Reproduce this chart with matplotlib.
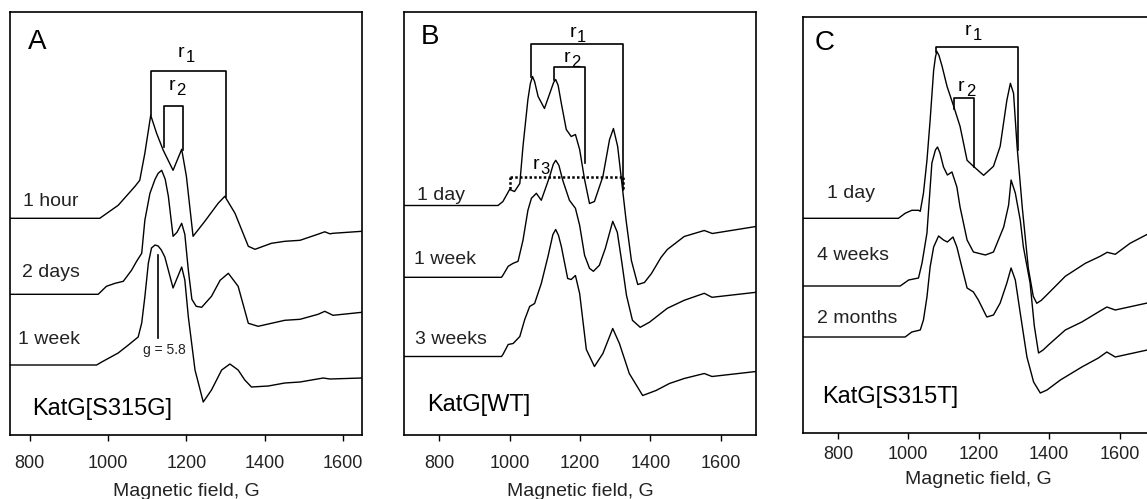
import numpy as np
import matplotlib.pyplot as plt

plt.rcParams['font.family'] = ['Liberation Sans', 'DejaVu Sans']

# --- panel A: KatG[S315G] (field in G, intensity in a.u.)
field_a1 = [750, 974, 979, 1026, 1069, 1081, 1094, 1109, 1124, 1141, 1166, 1188, 1200, 1217,
            1247, 1281, 1298, 1324, 1358, 1375, 1417, 1451, 1490, 1535, 1553, 1566, 1574, 1648]
int_a1 = [0, 0, 0, 13, 32, 38, 65, 103, 85, 68, 48, 69, 42, -18,
          -3, 15, 22, 5, -28, -31, -25, -23, -22, -16, -13.5, -15.5, -15, -13]

field_a2 = [750, 975, 996, 1018, 1039, 1060, 1073, 1086, 1094, 1107, 1120, 1128, 1137, 1146,
            1154, 1166, 1176, 1188, 1196, 1205, 1214, 1225, 1239, 1264, 1286, 1307, 1332,
            1358, 1383, 1451, 1490, 1536, 1553, 1574, 1648]
int_a2 = [0, 0, 8, 11, 13, 24, 33, 41, 74, 101, 115, 121, 124, 115,
          98, 58, 62, 71, 60, 24, -5, -12, -13, -2, 14, 21, 8,
          -29, -32, -26, -25, -20, -17, -21, -18]

field_a3 = [750, 971, 984, 1026, 1052, 1077, 1086, 1094, 1103, 1111, 1120, 1128, 1136, 1145,
            1166, 1188, 1196, 1205, 1222, 1243, 1264, 1290, 1311, 1332, 1349, 1366, 1409,
            1451, 1490, 1549, 1566, 1648]
int_a3 = [0, 0, 3, 12, 20, 28, 42, 68, 102, 117, 120, 119, 115, 108,
          77, 98, 85, 48, -5, -37, -25, -5, 1, -5, -15, -22, -21,
          -18, -17, -13, -14, -13]

# --- panel B: KatG[WT]
field_b1 = [700, 967, 981, 1000, 1014, 1029, 1038, 1052, 1059, 1065, 1071, 1081, 1099, 1118,
            1125, 1131, 1138, 1147, 1161, 1175, 1187, 1199, 1213, 1227, 1241, 1265, 1284,
            1295, 1307, 1320, 1331, 1346, 1364, 1383, 1403, 1430, 1448, 1496, 1553, 1576, 1700]
int_b1 = [0, 0, 4, 16, 14, 22, 59, 106, 122, 129, 124, 109, 97, 116,
          123, 126, 120, 102, 76, 69, 71, 56, 26, 2, 4, 29, 66,
          77, 59, 19, -15, -55, -79, -77, -68, -52, -44, -31, -25, -28, -21]

field_b2 = [700, 977, 981, 996, 1010, 1024, 1038, 1052, 1062, 1076, 1090, 1114, 1124, 1131,
            1140, 1151, 1170, 1187, 1199, 1213, 1227, 1238, 1255, 1272, 1293, 1306, 1318,
            1332, 1349, 1371, 1397, 1448, 1496, 1553, 1575, 1700]
int_b2 = [0, 0, 2, 11, 14, 16, 37, 67, 79, 84, 77, 101, 113, 117,
          112, 97, 77, 69, 52, 22, 9, 6, 12, 29, 56, 45, 17,
          -18, -43, -50, -45, -31, -23, -16, -20, -15]

field_b3 = [700, 977, 981, 996, 1010, 1029, 1043, 1057, 1071, 1090, 1109, 1123, 1131, 1139,
            1147, 1165, 1175, 1187, 1199, 1218, 1241, 1265, 1293, 1312, 1340, 1378, 1416,
            1454, 1496, 1553, 1575, 1700]
int_b3 = [0, 0, 2, 12, 13, 20, 37, 50, 53, 73, 100, 122, 127, 121,
          110, 78, 77, 81, 63, 7, -10, 3, 28, 13, -17, -39, -34,
          -27, -22, -17, -20, -15]

# --- panel C: KatG[S315T]
field_c1 = [700, 972, 991, 1010, 1029, 1034, 1043, 1053, 1062, 1072, 1077, 1081, 1087, 1096,
            1110, 1128, 1147, 1167, 1185, 1214, 1242, 1261, 1280, 1290, 1299, 1309, 1324,
            1341, 1355, 1365, 1378, 1398, 1446, 1503, 1545, 1565, 1588, 1630, 1679, 1700]
int_c1 = [0, 0, 5, 8, 8, 7, 25, 58, 98, 148, 161, 167, 163, 152,
          132, 113, 92, 58, 52, 43, 52, 72, 118, 135, 125, 72, 10,
          -50, -78, -85, -82, -75, -58, -45, -38, -34, -36, -25, -16, -13]

field_c2 = [700, 977, 1001, 1029, 1039, 1053, 1067, 1077, 1083, 1090, 1100, 1111, 1124, 1138,
            1147, 1167, 1185, 1219, 1242, 1271, 1285, 1292, 1304, 1318, 1327, 1346, 1358,
            1370, 1383, 1398, 1446, 1493, 1540, 1564, 1588, 1679, 1700]
int_c2 = [0, 0, 6, 8, 23, 53, 123, 136, 139, 133, 119, 111, 114, 99,
          79, 46, 34, 31, 34, 59, 81, 106, 93, 66, 39, 3, -40,
          -67, -64, -59, -44, -36, -26, -21, -24, -17, -16]

field_c3 = [700, 991, 1010, 1034, 1043, 1053, 1062, 1072, 1086, 1100, 1111, 1127, 1138, 1152,
            1167, 1185, 1199, 1223, 1242, 1261, 1280, 1292, 1304, 1318, 1337, 1356, 1375,
            1394, 1432, 1493, 1540, 1564, 1588, 1679, 1700]
int_c3 = [0, 0, 5, 7, 17, 40, 70, 90, 101, 97, 95, 100, 90, 70,
          49, 45, 37, 20, 22, 34, 54, 69, 57, 24, -20, -45, -56,
          -53, -43, -30, -21, -15, -20, -13, -12]

labels_a = ['1 hour', '2 days', '1 week']
labels_b = ['1 day', '1 week', '3 weeks']
labels_c = ['1 day', '4 weeks', '2 months']

offsets_a = [216.7, 140.7, 70]
offsets_b = [229.5, 157.7, 78.5]
offsets_c = [214.4, 146.7, 95.7]

ticks = [800, 1000, 1200, 1400, 1600]

fig = plt.figure(figsize=(11.47, 4.99), dpi=100)
W, H = 1147, 499


def make_ax(x0, ytop, ybot, xlim, ymax, pad, labelpad):
    ax = fig.add_axes([x0 / W, 1 - ybot / H, 352 / W, (ybot - ytop) / H])
    ax.set_xlim(*xlim)
    ax.set_ylim(0, ymax)
    ax.set_yticks([])
    ax.set_xticks(ticks)
    ax.tick_params(axis='x', direction='out', length=4.5, width=1, pad=pad,
                   labelsize=13, labelcolor='#222')
    for s in ax.spines.values():
        s.set_linewidth(1.2)
    ax.set_xlabel('Magnetic field, G', fontsize=14, color='#222', labelpad=labelpad)
    return ax


def bracket(ax, x0, x1, top, y0, y1, **kw):
    ax.plot([x0, x0, x1, x1], [y0, top, top, y1], color='k', lw=1.2, **kw)


def r_label(ax, x, y, sub):
    ax.annotate('r', (x, y), ha='right', va='baseline', fontsize=14)
    ax.annotate(sub, (x, y), xytext=(1, -3.5), textcoords='offset points',
                ha='left', va='baseline', fontsize=12)


def traces(ax, fields, ints, offsets, labels, label_pos):
    for f, i, off, lab, (lx, ly) in zip(fields, ints, offsets, labels, label_pos):
        ax.plot(f, np.array(i) + off, color='k', lw=1.0)
        ax.text(lx, ly, lab, transform=ax.transAxes, fontsize=14, color='#222',
                ha='left', va='center')


# panel A
axA = make_ax(10, 12, 435, (750, 1648), 423, 10, 7.5)
traces(axA, [field_a1, field_a2, field_a3], [int_a1, int_a2, int_a3], offsets_a, labels_a,
       [(0.038, 0.552), (0.033, 0.384), (0.024, 0.225)])
axA.text(0.076, 0.930, 'A', transform=axA.transAxes, fontsize=20, ha='center', va='center')
axA.text(0.063, 0.061, 'KatG[S315G]', transform=axA.transAxes, fontsize=17, ha='left', va='center')
bracket(axA, 1109, 1300, 364, 320, 238)
bracket(axA, 1143, 1192, 329, 288, 285)
r_label(axA, 1195, 378, '1')
r_label(axA, 1171, 345, '2')
axA.plot([1126.5, 1126.5], [96.7, 180], color='k', lw=1.2)
axA.text(1144, 85, 'g = 5.8', fontsize=10, ha='center', va='center', color='#222')

# panel B
axB = make_ax(404, 12, 435, (700, 1700), 423, 10, 7.5)
traces(axB, [field_b1, field_b2, field_b3], [int_b1, int_b2, int_b3], offsets_b, labels_b,
       [(0.036, 0.567), (0.029, 0.415), (0.031, 0.226)])
axB.text(0.074, 0.942, 'B', transform=axB.transAxes, fontsize=20, ha='center', va='center')
axB.text(0.067, 0.071, 'KatG[WT]', transform=axB.transAxes, fontsize=17, ha='left', va='center')
bracket(axB, 1062, 1321, 391, 358, 245)
bracket(axB, 1126, 1215, 368, 355, 272)
dots = dict(color='k', lw=1.8, linestyle=(0, (1, 0.9)))
axB.plot([1000, 1321], [258, 258], **dots)
axB.plot([1000, 1000], [258, 246], **dots)
axB.plot([1321, 1321], [258, 246], **dots)
r_label(axB, 1188, 398, '1')
r_label(axB, 1172, 373, '2')
r_label(axB, 1084, 266, '3')

# panel C
axC = make_ax(802.7, 16.7, 432.7, (700, 1700), 416, 5, 6)
traces(axC, [field_c1, field_c2, field_c3], [int_c1, int_c2, int_c3], offsets_c, labels_c,
       [(0.068, 0.575), (0.040, 0.427), (0.040, 0.275)])
axC.text(0.063, 0.936, 'C', transform=axC.transAxes, fontsize=20, ha='center', va='center')
axC.text(0.056, 0.087, 'KatG[S315T]', transform=axC.transAxes, fontsize=17, ha='left', va='center')
bracket(axC, 1079, 1311, 386, 381, 283)
bracket(axC, 1130, 1188, 335, 324, 266)
r_label(axC, 1178, 398, '1')
r_label(axC, 1159, 342, '2')

fig.savefig('out.png', dpi=100)
